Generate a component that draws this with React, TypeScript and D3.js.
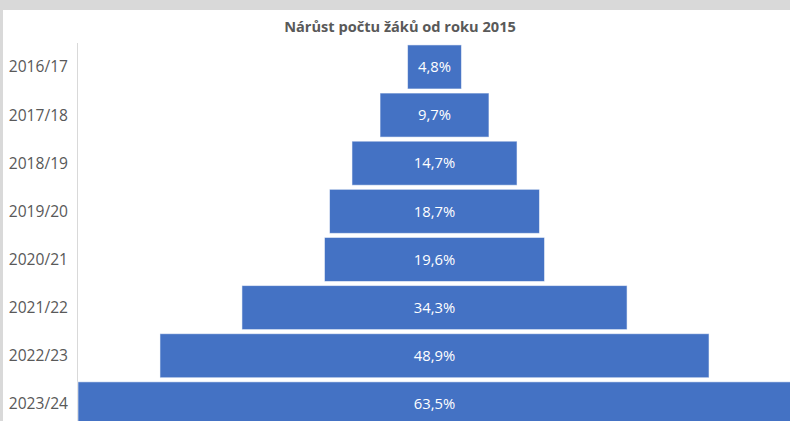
import React from "react";
import * as d3 from "d3";

const categories = ["2016/17", "2017/18", "2018/19", "2019/20", "2020/21", "2021/22", "2022/23", "2023/24"];
const values = [4.8, 9.7, 14.7, 18.7, 19.6, 34.3, 48.9, 63.5];
const valueLabels = ["4,8%", "9,7%", "14,7%", "18,7%", "19,6%", "34,3%", "48,9%", "63,5%"];
const title = "Nárůst počtu žáků od roku 2015";

const W = 790;
const H = 421;
const plotLeft = 78;
const plotRight = 791;
const plotTop = 43;
const bandStep = 48.1;

export default function App() {
  React.useEffect(() => {
    document.body.style.margin = "0";
  }, []);
  const center = (plotLeft + plotRight) / 2;
  const half = d3.scaleLinear().domain([0, 63.5]).range([0, (plotRight - plotLeft) / 2]);
  const y = d3
    .scaleBand<string>()
    .domain(categories)
    .range([plotTop, plotTop + bandStep * categories.length])
    .paddingInner(0.085)
    .paddingOuter(0.04);
  const font = "'Open Sans', 'Liberation Sans', sans-serif";
  return (
    <svg width={W} height={H} style={{ position: "absolute", left: 0, top: 0, display: "block" }} fontFamily={font}>
      <rect x={0} y={0} width={W} height={H} fill="#d9d9d9" />
      <rect x={3} y={10} width={W - 3} height={H - 10} fill="#ffffff" />
      <text x={400} y={32} textAnchor="middle" fontSize={14.6} fontWeight="bold" fill="#595959">
        {title}
      </text>
      <line x1={plotLeft - 0.5} x2={plotLeft - 0.5} y1={plotTop} y2={H} stroke="#d9d9d9" strokeWidth={1} />
      {categories.map((c, i) => {
        const w = half(values[i]);
        const by = y(c)!;
        const bh = y.bandwidth();
        return (
          <g key={c}>
            <rect
              x={center - w}
              y={by}
              width={w * 2}
              height={bh}
              fill="#4472c4"
              stroke="#ffffff"
              strokeOpacity={0.55}
              strokeWidth={1}
            />
            <text x={center} y={by + bh / 2} dy="0.35em" textAnchor="middle" fontSize={14.8} fill="#ffffff">
              {valueLabels[i]}
            </text>
            <text x={68} y={by + bh / 2} dy="0.35em" textAnchor="end" fontSize={15.6} fill="#595959">
              {c}
            </text>
          </g>
        );
      })}
    </svg>
  );
}
